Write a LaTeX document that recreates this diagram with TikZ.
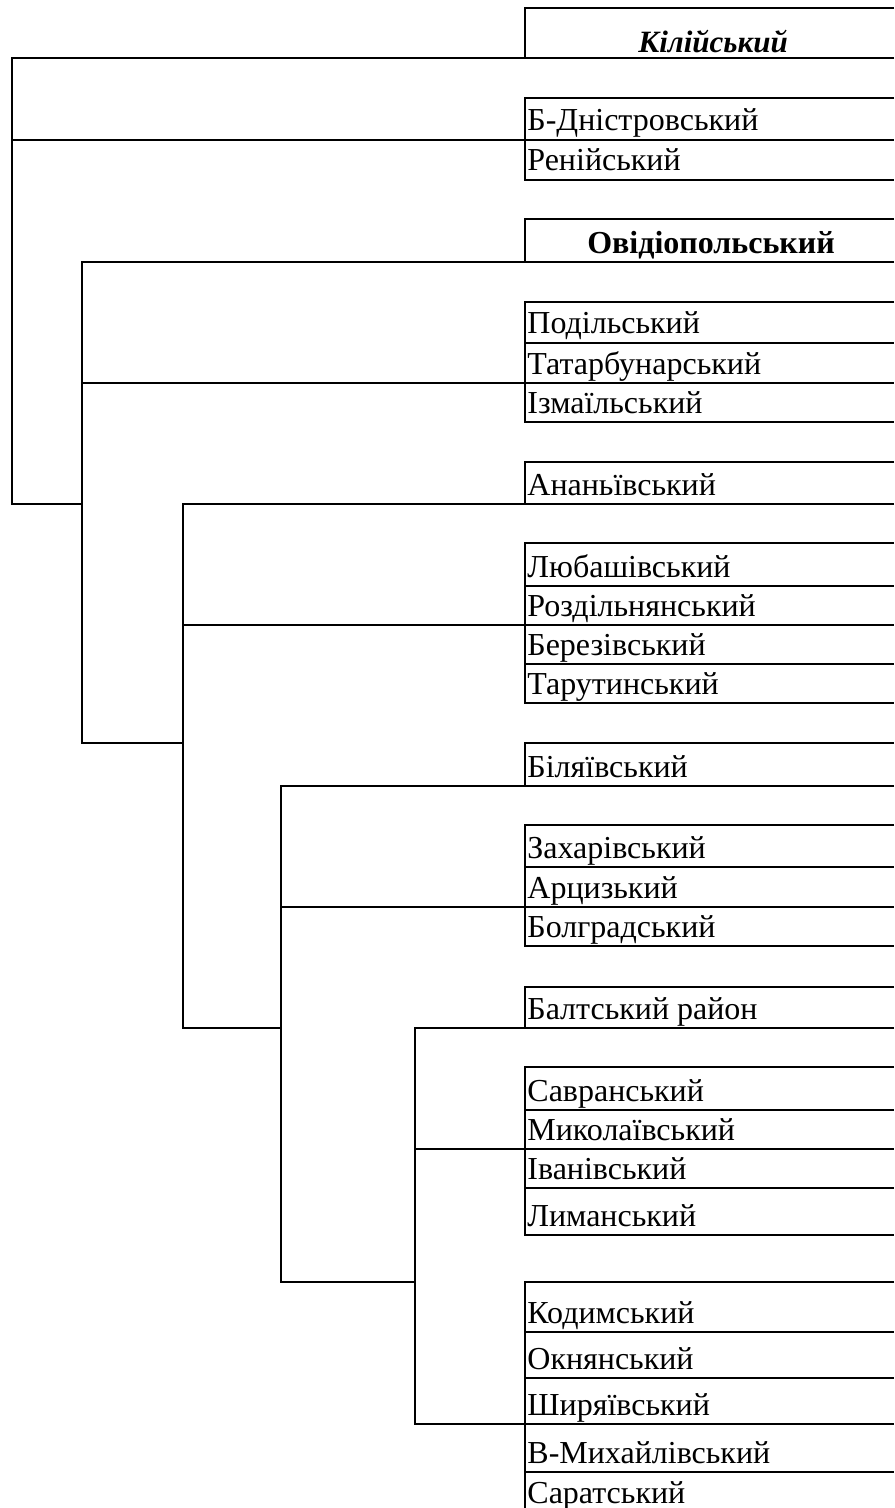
\documentclass[tikz,border=0pt]{standalone}
\usepackage{fontspec}
\setmainfont{Liberation Serif}

\begin{document}
\begin{tikzpicture}[x=0.5pt,y=-0.5pt,line width=1.4pt,
	                    every node/.style={inner sep=0pt,font=\fontsize{16}{18}\selectfont}]
	  	\tikzset{rayon/.style={anchor=base west}, head/.style={anchor=base}}
	  	\useasboundingbox (0,0) rectangle (894,1508);

		  % клітинки праворуч
		  \draw (894,8) -| (525,58);
		  \draw (894,98) -| (525,180) -- (894,180);
		  \draw (894,219) -| (525,262);
		  \draw (894,302) -| (525,422) -- (894,422);
		  \draw (525,343) -- (894,343);
		  \draw (894,462) -| (525,504);
		  \draw (894,543) -| (525,703) -- (894,703);
		  \draw (525,586) -- (894,586);
		  \draw (525,664) -- (894,664);
		  \draw (894,743) -| (525,786);
		  \draw (894,825) -| (525,946) -- (894,946);
		  \draw (525,867) -- (894,867);
		  \draw (894,987) -| (525,1028);
		  \draw (894,1067) -| (525,1235) -- (894,1235);
		  \draw (525,1110) -- (894,1110);
		  \draw (525,1188) -- (894,1188);
		  \draw (894,1282) -| (525,1508);
		  \draw (525,1332) -- (894,1332);
		  \draw (525,1378) -- (894,1378);
		  \draw (525,1472) -- (894,1472);

		  % дерево
		  \draw (894,58) -| (12,504) -- (82,504);
		  \draw (12,140) -- (894,140);
		  \draw (894,262) -| (82,743) -- (183,743);
		  \draw (82,383) -- (894,383);
		  \draw (894,504) -| (183,1028) -- (281,1028);
		  \draw (183,625) -- (894,625);
		  \draw (894,786) -| (281,1282) -- (415,1282);
		  \draw (281,907) -- (894,907);
		  \draw (894,1028) -| (415,1424) -- (894,1424);
		  \draw (415,1149) -- (894,1149);

		  \node[head]  (kil)   at (713,53)   {\fontsize{15.5}{18}\selectfont\bfseries\itshape Кілійський};
		  \node[head]  (ovid)  at (711,254)  {\bfseries Овідіопольський};
		  \node[rayon] (bdn)   at (526,131)  {Б-Дністровський};
		  \node[rayon] (ren)   at (526,171)  {Ренійський};
		  \node[rayon] (pod)   at (526,334)  {Подільський};
		  \node[rayon] (tat)   at (526,374)  {Татарбунарський};
		  \node[rayon] (izm)   at (526,413)  {Ізмаїльський};
		  \node[rayon] (anan)  at (526,495)  {Ананьївський};
		  \node[rayon] (lub)   at (526,577)  {Любашівський};
		  \node[rayon] (rozd)  at (526,616)  {Роздільнянський};
		  \node[rayon] (berez) at (526,655)  {Березівський};
		  \node[rayon] (tar)   at (526,694)  {Тарутинський};
		  \node[rayon] (bil)   at (526,777)  {Біляївський};
		  \node[rayon] (zakh)  at (526,858)  {Захарівський};
		  \node[rayon] (arts)  at (526,898)  {Арцизький};
		  \node[rayon] (bolh)  at (526,937)  {Болградський};
		  \node[rayon] (balt)  at (526,1019) {Балтський район};
		  \node[rayon] (savr)  at (526,1101) {Савранський};
		  \node[rayon] (myk)   at (526,1140) {Миколаївський};
		  \node[rayon] (ivan)  at (526,1179) {Іванівський};
		  \node[rayon] (lym)   at (526,1226) {Лиманський};
		  \node[rayon] (kod)   at (526,1323) {Кодимський};
		  \node[rayon] (okn)   at (526,1369) {Окнянський};
		  \node[rayon] (shyr)  at (526,1415) {Ширяївський};
		  \node[rayon] (vmykh) at (526,1463) {В-Михайлівський};
		  \node[rayon] (sar)   at (526,1503) {Саратський};
		\end{tikzpicture}
\end{document}
